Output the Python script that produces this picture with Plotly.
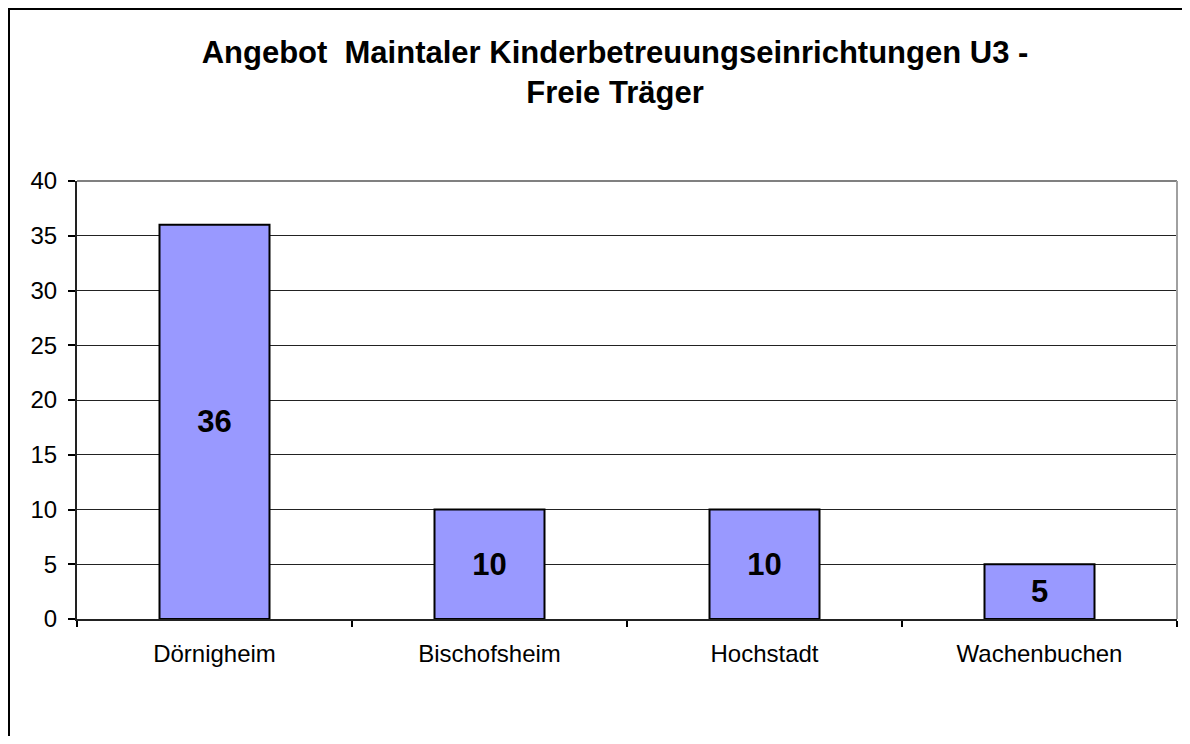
import plotly.graph_objects as go

categories = ["Dörnigheim", "Bischofsheim", "Hochstadt", "Wachenbuchen"]
values = [36, 10, 10, 5]
title_lines = ["Angebot  Maintaler Kinderbetreuungseinrichtungen U3 -", "Freie Träger"]
y_ticks = [0, 5, 10, 15, 20, 25, 30, 35, 40]

# page has an 8px body margin; size the figure so nothing overflows
W, H = 1174, 728
L, R, T, B = 69, 5, 173, 117
pw, ph = W - L - R, H - T - B

fig = go.Figure()
fig.add_trace(go.Bar(
    x=categories, y=values, width=0.4,
    marker=dict(color="#9999FF", line=dict(color="#000000", width=2)),
    text=[str(v) for v in values], textposition="inside",
    insidetextanchor="middle", textangle=0, constraintext="none",
    textfont=dict(family="Liberation Sans, Arial", size=31, color="#000000", weight="bold"),
    hoverinfo="skip",
))

def px_x(p):
    return (p - L) / pw

def px_y(p):
    return (H - B - p) / ph

fig.update_layout(
    width=W, height=H,
    margin=dict(l=L, r=R, t=T, b=B),
    paper_bgcolor="white", plot_bgcolor="white",
    showlegend=False,
    font=dict(family="Liberation Sans, Arial", color="#000000"),
    title=dict(
        text="<br>".join(title_lines),
        x=607 / W, xanchor="center", xref="container",
        y=1 - 55 / H, yanchor="middle", yref="container",
        font=dict(family="Liberation Sans, Arial", size=31, color="#000000", weight="bold"),
    ),
    xaxis=dict(
        type="category", tickson="boundaries", ticks="outside", ticklen=6,
        tickcolor="#000000", tickwidth=1.5,
        showline=True, linecolor="#222222", linewidth=2,
        showgrid=False, tickfont=dict(size=24, color="#000000"),
        ticklabelstandoff=12,
    ),
    yaxis=dict(
        range=[0, 40], tickmode="array", tickvals=y_ticks,
        ticks="outside", ticklen=7, tickcolor="#000000", tickwidth=1.5,
        showline=True, linecolor="#222222", linewidth=2,
        showgrid=True, gridcolor="#222222", gridwidth=1.2,
        zeroline=False, tickfont=dict(size=24, color="#000000"),
        ticklabelstandoff=6,
    ),
    shapes=[
        dict(type="line", xref="paper", yref="paper", x0=0, x1=1, y0=1, y1=1,
             line=dict(color="#808080", width=2), layer="above"),
        dict(type="line", xref="paper", yref="paper", x0=1, x1=1, y0=0, y1=1,
             line=dict(color="#A0A0A0", width=2), layer="above"),
        dict(type="line", xref="paper", yref="paper", x0=px_x(0), x1=px_x(W + 20),
             y0=px_y(1), y1=px_y(1), line=dict(color="#000000", width=2), layer="above"),
        dict(type="line", xref="paper", yref="paper", x0=px_x(1), x1=px_x(1),
             y0=px_y(0), y1=px_y(H + 20), line=dict(color="#000000", width=2), layer="above"),
    ],
)

fig.write_html("out.html")
